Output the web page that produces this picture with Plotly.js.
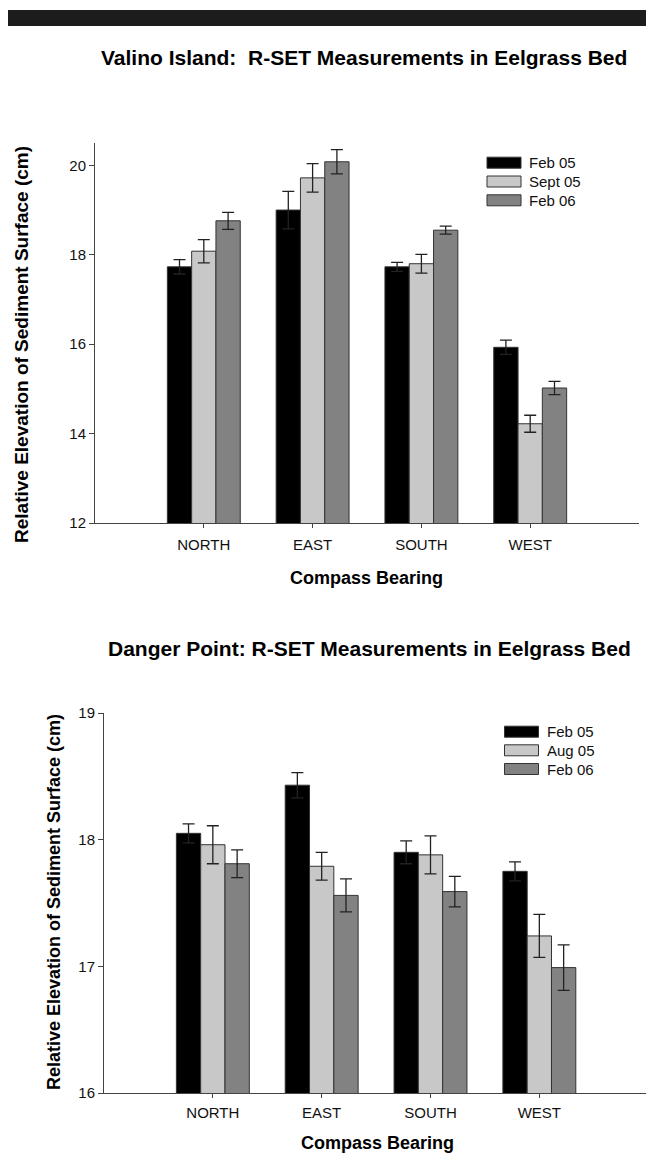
<!DOCTYPE html>
<html>
<head>
<meta charset="utf-8">
<script src="https://cdn.plot.ly/plotly-3.0.1.min.js"></script>
<style>html,body{margin:0;padding:0;background:#fff;}#chart{width:646px;height:1156px;}</style>
</head>
<body>
<div id="chart"></div>
<script>
// ---- data ----
const categories = ["NORTH", "EAST", "SOUTH", "WEST"];

// Valino Island
const valinoSeries = ["Feb 05", "Sept 05", "Feb 06"];
const valinoFeb05 = [17.73, 19.00, 17.73, 15.93];
const valinoFeb05Err = [0.16, 0.42, 0.10, 0.16];
const valinoSep05 = [18.08, 19.72, 17.80, 14.22];
const valinoSep05Err = [0.26, 0.32, 0.21, 0.19];
const valinoFeb06 = [18.76, 20.08, 18.55, 15.02];
const valinoFeb06Err = [0.19, 0.27, 0.09, 0.15];

// Danger Point
const dangerSeries = ["Feb 05", "Aug 05", "Feb 06"];
const dangerFeb05 = [18.05, 18.43, 17.90, 17.75];
const dangerFeb05Err = [0.075, 0.10, 0.09, 0.075];
const dangerAug05 = [17.96, 17.79, 17.88, 17.24];
const dangerAug05Err = [0.15, 0.11, 0.15, 0.17];
const dangerFeb06 = [17.81, 17.56, 17.59, 16.99];
const dangerFeb06Err = [0.11, 0.13, 0.12, 0.18];

const valinoTickVals = [12, 14, 16, 18, 20];
const dangerTickVals = [16, 17, 18, 19];

// ---- styling ----
const colors = ["#000000", "#c8c8c8", "#828282"];
const FONT = "Liberation Sans, Arial, Helvetica, sans-serif";
const W = 646, H = 1156;
const px = v => v / W;
const py = v => 1 - v / H;

function barTrace(name, y, err, color, xa, ya) {
  return {
    type: "bar", name: name, x: categories, y: y,
    xaxis: xa, yaxis: ya,
    marker: {color: color, line: {color: "#333333", width: 1}},
    error_y: {type: "data", array: err, visible: true, color: "#222222", thickness: 1.3, width: 6},
    showlegend: false, hoverinfo: "skip"
  };
}

const data = [
  barTrace(valinoSeries[0], valinoFeb05, valinoFeb05Err, colors[0], "x", "y"),
  barTrace(valinoSeries[1], valinoSep05, valinoSep05Err, colors[1], "x", "y"),
  barTrace(valinoSeries[2], valinoFeb06, valinoFeb06Err, colors[2], "x", "y"),
  barTrace(dangerSeries[0], dangerFeb05, dangerFeb05Err, colors[0], "x2", "y2"),
  barTrace(dangerSeries[1], dangerAug05, dangerAug05Err, colors[1], "x2", "y2"),
  barTrace(dangerSeries[2], dangerFeb06, dangerFeb06Err, colors[2], "x2", "y2")
];

const xCommon = {
  type: "category", showgrid: false, zeroline: false,
  showline: true, linecolor: "#444444", linewidth: 1,
  ticks: "outside", ticklen: 4, tickcolor: "#444444", tickwidth: 1,
  tickfont: {family: FONT, size: 15, color: "#111111"},
  fixedrange: true
};
const yCommon = {
  showgrid: false, zeroline: false,
  showline: true, linecolor: "#444444", linewidth: 1,
  ticks: "outside", ticklen: 5, tickcolor: "#444444", tickwidth: 1,
  tickfont: {family: FONT, size: 15, color: "#111111"},
  tickmode: "array", fixedrange: true
};

const layout = {
  width: W, height: H,
  margin: {l: 0, r: 0, t: 0, b: 0},
  paper_bgcolor: "#ffffff", plot_bgcolor: "#ffffff",
  barmode: "group", bargap: 0.33, bargroupgap: 0,
  xaxis: Object.assign({}, xCommon, {domain: [px(95), px(639)], range: [-1, 4], anchor: "y", ticklabelstandoff: 4}),
  yaxis: Object.assign({}, yCommon, {domain: [py(523), py(143)], range: [12, 20.5], tickvals: valinoTickVals, anchor: "x"}),
  xaxis2: Object.assign({}, xCommon, {domain: [px(104), 1], range: [-1, 3.98], anchor: "y2", ticklabelstandoff: 2}),
  yaxis2: Object.assign({}, yCommon, {domain: [py(1093), py(713)], range: [16, 19], tickvals: dangerTickVals, anchor: "x2"}),
  shapes: [
    {type: "rect", xref: "paper", yref: "paper", x0: px(8), x1: 1, y0: py(26), y1: py(10),
     fillcolor: "#1c1c1c", line: {width: 0}, layer: "above"}
  ],
  annotations: [
    {text: "<b>Valino Island:  R-SET Measurements in Eelgrass Bed</b>", xref: "paper", yref: "paper",
     x: px(364), y: py(57), showarrow: false, font: {family: FONT, size: 21, color: "#000"}, xanchor: "center", yanchor: "middle"},
    {text: "<b>Danger Point: R-SET Measurements in Eelgrass Bed</b>", xref: "paper", yref: "paper",
     x: px(370), y: py(648), showarrow: false, font: {family: FONT, size: 21, color: "#000"}, xanchor: "center", yanchor: "middle"},
    {text: "<b>Compass Bearing</b>", xref: "paper", yref: "paper",
     x: px(366), y: py(578), showarrow: false, font: {family: FONT, size: 18, color: "#000"}, xanchor: "center", yanchor: "middle"},
    {text: "<b>Compass Bearing</b>", xref: "paper", yref: "paper",
     x: px(377), y: py(1143), showarrow: false, font: {family: FONT, size: 18, color: "#000"}, xanchor: "center", yanchor: "middle"},
    {text: "<b>Relative Elevation of Sediment Surface (cm)</b>", xref: "paper", yref: "paper",
     x: px(21), y: py(345), showarrow: false, textangle: -90, font: {family: FONT, size: 19, color: "#000"}, xanchor: "center", yanchor: "middle"},
    {text: "<b>Relative Elevation of Sediment Surface (cm)</b>", xref: "paper", yref: "paper",
     x: px(54), y: py(902), showarrow: false, textangle: -90, font: {family: FONT, size: 18, color: "#000"}, xanchor: "center", yanchor: "middle"}
  ]
};

// manual legends (swatches + labels)
function addLegend(names, swX, textX, rowsY) {
  names.forEach((n, i) => {
    layout.shapes.push({type: "rect", xref: "paper", yref: "paper",
      x0: px(swX), x1: px(swX + 34), y0: py(rowsY[i] + 5.5), y1: py(rowsY[i] - 5.5),
      fillcolor: colors[i], line: {color: "#333333", width: 1}});
    layout.annotations.push({text: n, xref: "paper", yref: "paper", x: px(textX), y: py(rowsY[i]),
      showarrow: false, xanchor: "left", yanchor: "middle", font: {family: FONT, size: 15, color: "#111"}});
  });
}
addLegend(valinoSeries, 487, 527, [162.7, 181.5, 200.3]);
addLegend(dangerSeries, 504.5, 545, [731.7, 750.3, 769]);

Plotly.newPlot("chart", data, layout, {staticPlot: true, displayModeBar: false});
</script>
</body>
</html>
